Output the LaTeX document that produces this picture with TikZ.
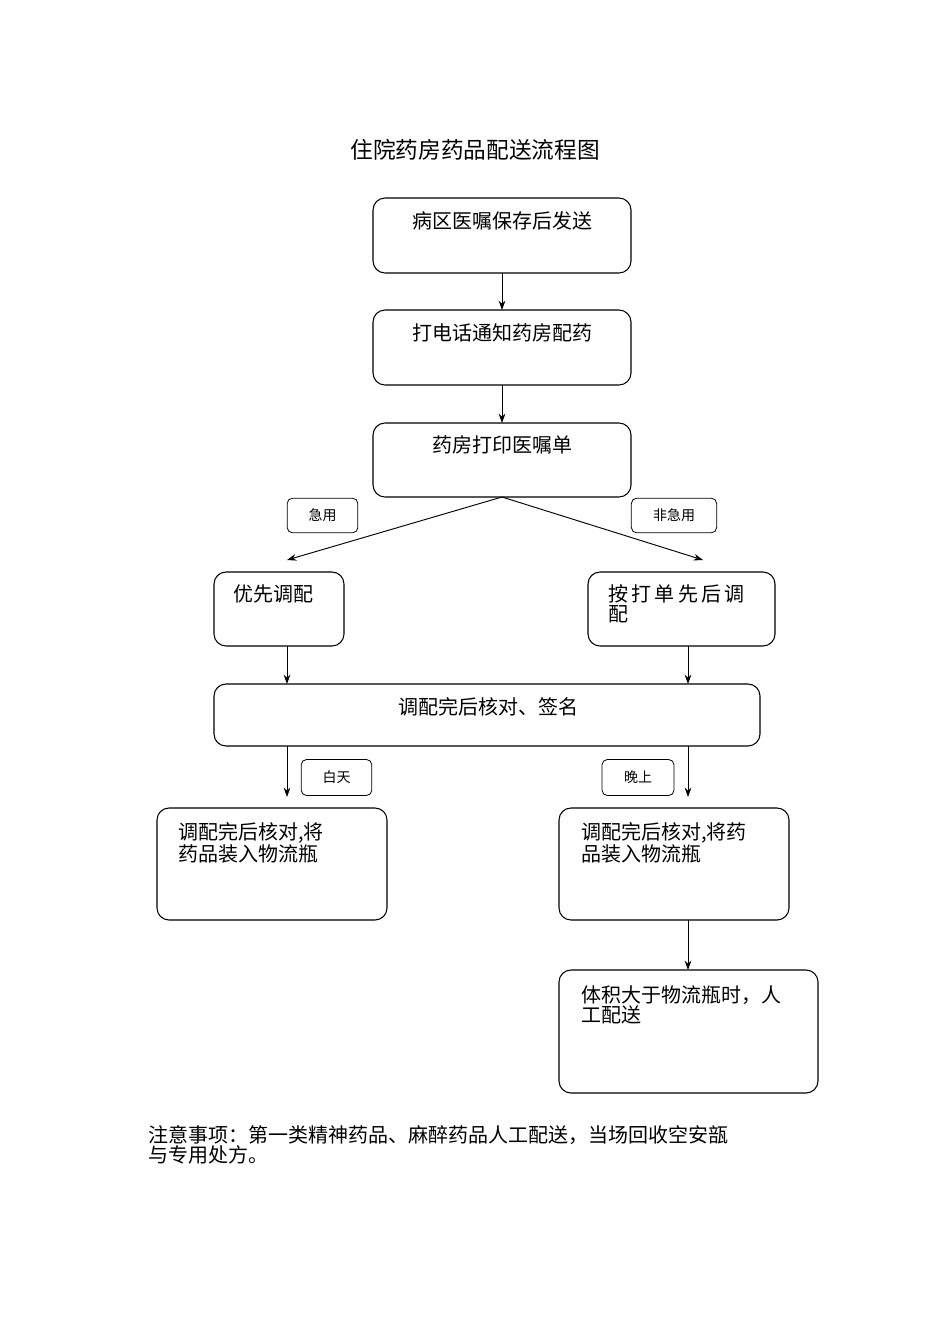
\documentclass[tikz,border=0pt]{standalone}
\usepackage{fontspec}
\setmainfont{Noto Sans CJK SC}
\usetikzlibrary{arrows.meta}
\begin{document}
\begin{tikzpicture}[x=0.75pt,y=-0.75pt,
  box/.style={draw,rounded corners=9pt,line width=0.8pt},
  lbl/.style={draw,rounded corners=4pt,line width=0.6pt,minimum width=0pt,font=\fontsize{10.5}{12}\selectfont},
  txt/.style={font=\fontsize{15}{15}\selectfont,anchor=north west,align=left,inner sep=0pt},
  arr/.style={-{Stealth[length=7pt,width=5pt]},line width=0.7pt}]
\useasboundingbox (0,0) rectangle (950,1344);
\node[font=\fontsize{17}{20}\selectfont] (title) at (475,150) {住院药房药品配送流程图};
\draw[box] (373,198) rectangle (631,273); \node[txt,anchor=north] (t1) at (502,211) {病区医嘱保存后发送};
\draw[box] (373,310) rectangle (631,385); \node[txt,anchor=north] (t2) at (502,323) {打电话通知药房配药};
\draw[box] (373,423) rectangle (631,497); \node[txt,anchor=north] (t3) at (502,435) {药房打印医嘱单};
\node[lbl,minimum width=53pt,minimum height=26pt] (l1) at (322.5,515.5) {急用};
\node[lbl,minimum width=64pt,minimum height=26pt] (l2) at (674,515.5) {非急用};
\draw[box] (214,572) rectangle (344,646); \node[txt] (t4) at (233,584) {优先调配};
\draw[box] (588,572) rectangle (775,646); \node[txt,text width=150pt] (t5) at (608,584) {按\,打\,单\,先\,后\,调\\配};
\draw[box] (214,684) rectangle (760,746); \node[txt,anchor=north] (t6) at (488,697) {调配完后核对、签名};
\node[lbl,minimum width=53pt,minimum height=27pt] (l3) at (336.5,777.5) {白天};
\node[lbl,minimum width=54pt,minimum height=27pt] (l4) at (638,777.5) {晚上};
\draw[box] (157,808) rectangle (387,920); \node[txt] (t7) at (178,822) {调配完后核对,将\\药品装入物流瓶};
\draw[box] (559,808) rectangle (789,920); \node[txt] (t8) at (581,822) {调配完后核对,将药\\品装入物流瓶};
\draw[box] (559,970) rectangle (818,1093); \node[txt] (t9) at (581,985) {体积大于物流瓶时，人\\工配送};
\node[txt] (note) at (148,1125) {注意事项：第一类精神药品、麻醉药品人工配送，当场回收空安瓿\\与专用处方。};
\coordinate (a1) at (502,273); \coordinate (b1) at (502,310);
\coordinate (a2) at (502,385); \coordinate (b2) at (502,423);
\coordinate (a3) at (502,497); \coordinate (b3l) at (287,560); \coordinate (b3r) at (703,560);
\coordinate (a4) at (287,646); \coordinate (b4) at (287,684);
\coordinate (a5) at (688,646); \coordinate (b5) at (688,684);
\coordinate (a6l) at (287,746); \coordinate (b6l) at (287,797);
\coordinate (a6r) at (688,746); \coordinate (b6r) at (688,797);
\coordinate (a8) at (688,920); \coordinate (b8) at (688,970);
\foreach \p/\q in {a1/b1,a2/b2,a3/b3l,a3/b3r,a4/b4,a5/b5,a6l/b6l,a6r/b6r,a8/b8}
  \draw[arr] (\p) -- (\q);
\end{tikzpicture}
\end{document}
